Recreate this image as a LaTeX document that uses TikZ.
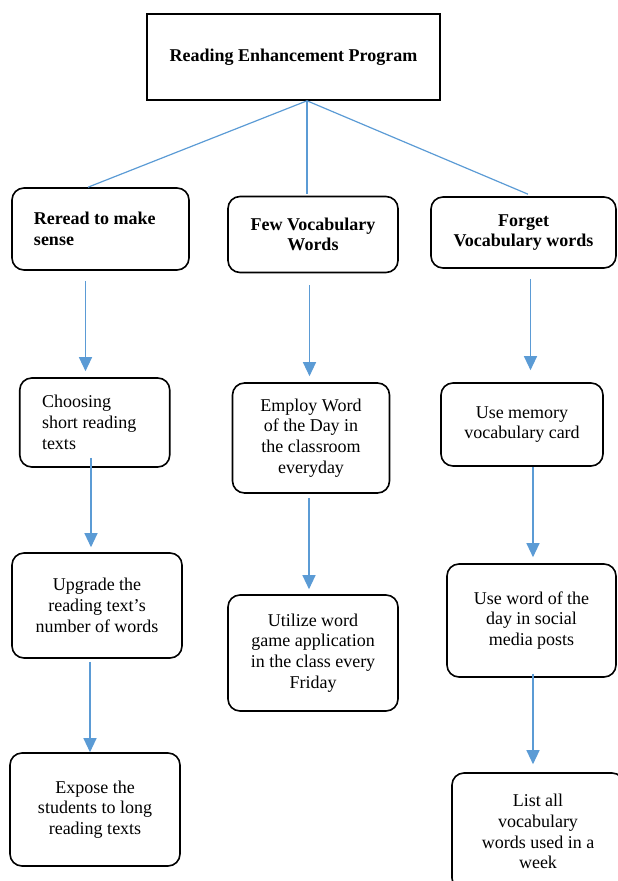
\documentclass[tikz,border=0pt]{standalone}
\usepackage{fontspec}
\setmainfont{Liberation Serif}
\usetikzlibrary{arrows.meta}
\definecolor{linkblue}{RGB}{91,155,213}
\tikzset{
  every node/.style={font=\fontsize{18}{20.7}\selectfont},
  titlebox/.style={draw,line width=1.6pt,font=\fontsize{18}{20.7}\selectfont\bfseries},
  stepbox/.style={draw,rounded corners=12pt,line width=1.6pt,align=center},
  headbox/.style={stepbox,font=\fontsize{18}{20.7}\selectfont\bfseries},
  link/.style={linkblue,line width=1.2pt},
  flow/.style={link,-{Triangle[width=13pt,length=14pt]}}
}
\begin{document}
\begin{tikzpicture}[x=1pt,y=-1pt]
\useasboundingbox (0,0) rectangle (618,881);
\node (title) at (293.5,57) [titlebox,minimum width=293pt,minimum height=86pt] {Reading Enhancement Program};
\node (reread) at (100.5,229) [headbox,minimum width=177pt,minimum height=82pt,text width=133pt,align=flush left] {Reread to make\\sense};
\node (fewvocab) at (313,234.5) [headbox,minimum width=170pt,minimum height=76pt] {Few Vocabulary\\Words};
\node (forget) at (523.5,232.5) [headbox,minimum width=185pt,minimum height=71pt] {Forget\\Vocabulary words};
\node (choose) at (94.75,422.5) [stepbox,minimum width=150pt,minimum height=89pt,text width=105.5pt,align=flush left] {Choosing\\short reading\\texts};
\node (employ) at (311,438) [stepbox,minimum width=157pt,minimum height=110pt] {Employ Word\\of the Day in\\the classroom\\everyday};
\node (usecard) at (522,424.5) [stepbox,minimum width=162pt,minimum height=83pt] {Use memory\\vocabulary card};
\node (upgrade) at (97,605.5) [stepbox,minimum width=170pt,minimum height=105pt] {Upgrade the\\reading text's\\number of words};
\node (utilize) at (313,653) [stepbox,minimum width=170pt,minimum height=116pt] {Utilize word\\game application\\in the class every\\Friday};
\node (useword) at (531.5,620.5) [stepbox,minimum width=169pt,minimum height=113pt] {Use word of the\\day in social\\media posts};
\node (expose) at (95,809.5) [stepbox,minimum width=170pt,minimum height=113pt] {Expose the\\students to long\\reading texts};
\node (listall) at (538,831.5) [stepbox,minimum width=172pt,minimum height=117pt] {List all\\vocabulary\\words used in a\\week};

\draw[link] ([xshift=13.5pt]title.south) -- ([xshift=-12.5pt]reread.north);
\draw[link] ([xshift=13.5pt]title.south) -- ([xshift=-6pt,yshift=2pt]fewvocab.north);
\draw[link] ([xshift=13.5pt]title.south) -- ([xshift=4.5pt,yshift=2pt]forget.north);

\draw[flow,shorten <=10pt,shorten >=6pt] ([xshift=-15pt]reread.south) -- ([xshift=-9.25pt]choose.north);
\draw[flow,shorten <=-10pt,shorten >=5pt] ([xshift=-3.75pt]choose.south) -- ([xshift=-6pt]upgrade.north);
\draw[flow,shorten <=3pt] ([xshift=-7pt]upgrade.south) -- ([xshift=-5pt]expose.north);
\draw[flow,shorten <=12pt,shorten >=6pt] ([xshift=-3.5pt]fewvocab.south) -- ([xshift=-1.5pt]employ.north);
\draw[flow,shorten <=4pt,shorten >=5pt] ([xshift=-2pt]employ.south) -- ([xshift=-4pt]utilize.north);
\draw[flow,shorten <=10pt,shorten >=12pt] ([xshift=7pt]forget.south) -- ([xshift=8.5pt]usecard.north);
\draw[flow,shorten >=6pt] ([xshift=11pt]usecard.south) -- ([xshift=1.5pt]useword.north);
\draw[flow,shorten <=-4pt,shorten >=8pt] ([xshift=1.5pt]useword.south) -- ([xshift=-5pt]listall.north);
\end{tikzpicture}
\end{document}
